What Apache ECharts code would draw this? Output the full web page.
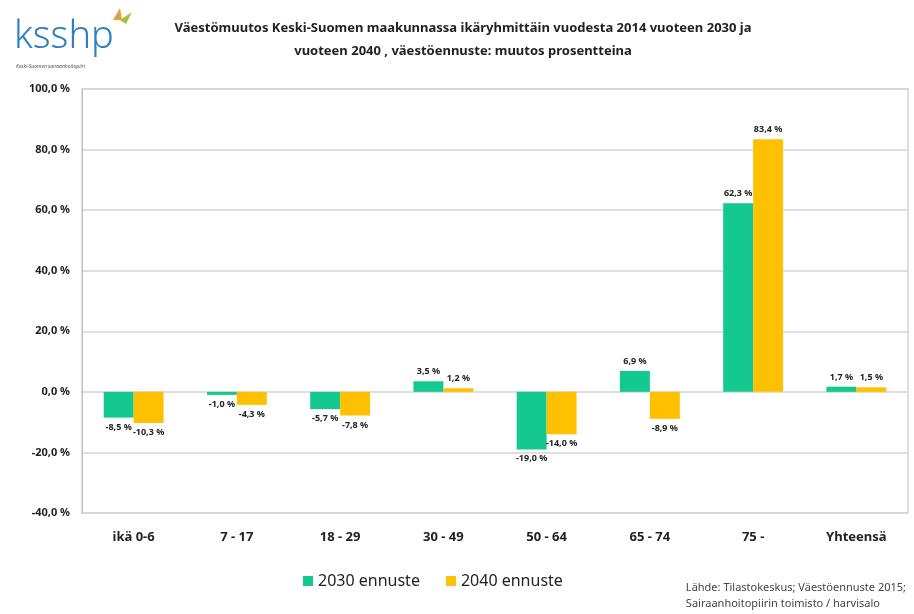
<!DOCTYPE html>
<html>
<head>
<meta charset="utf-8">
<script src="https://cdn.jsdelivr.net/npm/echarts@6/dist/echarts.min.js"></script>
<style>
  html, body { margin: 0; padding: 0; background: #fff; }
  #main { width: 914px; height: 614px; }
</style>
</head>
<body>
<div id="main"></div>
<script>
// ikäryhmät
const categories = ['ikä 0-6', '7 - 17', '18 - 29', '30 - 49', '50 - 64', '65 - 74', '75 -', 'Yhteensä'];
const ennuste2030 = [-8.5, -1.0, -5.7, 3.5, -19.0, 6.9, 62.3, 1.7];
const ennuste2040 = [-10.3, -4.3, -7.8, 1.2, -14.0, -8.9, 83.4, 1.5];
const seriesNames = ['2030 ennuste', '2040 ennuste'];

const FONT = '"Noto Sans", "Open Sans", sans-serif';
const fmt = (v) => v.toFixed(1).replace('.', ',') + ' %';

const barLabel = {
  show: true,
  fontFamily: FONT,
  fontSize: 9,
  fontWeight: 'bold',
  color: '#222',
  formatter: (p) => fmt(p.value),
};

function makeData(values) {
  // negatiiviset arvot: nimiö palkin alle
  return values.map((v) => ({
    value: v,
    label: { position: v < 0 ? 'bottom' : 'top' },
  }));
}

const myChart = echarts.init(document.getElementById('main'));

myChart.setOption({
  animation: false,
  backgroundColor: '#fff',
  title: {
    text: 'Väestömuutos Keski-Suomen maakunnassa ikäryhmittäin vuodesta 2014 vuoteen 2030 ja\nvuoteen 2040 , väestöennuste: muutos prosentteina',
    left: 458,
    top: 12,
    textAlign: 'center',
    textStyle: {
      fontFamily: FONT,
      fontSize: 13,
      fontWeight: 'bold',
      color: '#222',
      lineHeight: 23,
    },
  },
  legend: {
    data: seriesNames,
    left: 298,
    top: 568,
    itemWidth: 10,
    itemHeight: 10,
    itemGap: 26,
    icon: 'rect',
    textStyle: { fontFamily: FONT, fontSize: 16, color: '#222' },
  },
  grid: {
    left: 82,
    right: 6,
    top: 89,
    bottom: 101,
    show: true,
    borderColor: '#d4d4d4',
    borderWidth: 1.5,
  },
  xAxis: {
    type: 'category',
    data: categories,
    axisLine: { show: false },
    axisTick: { show: false },
    axisLabel: {
      fontFamily: FONT,
      fontSize: 13,
      fontWeight: 'bold',
      color: '#222',
      margin: 18,
    },
  },
  yAxis: {
    type: 'value',
    min: -40,
    max: 100,
    interval: 20,
    axisLine: { show: true, lineStyle: { color: '#bfbfbf' } },
    axisTick: { show: false },
    splitLine: { lineStyle: { color: '#d4d4d4', width: 1.5 } },
    axisLabel: {
      fontFamily: FONT,
      fontSize: 11,
      fontWeight: 'bold',
      color: '#222',
      margin: 12,
      formatter: (v) => fmt(v),
    },
  },
  series: [
    {
      name: seriesNames[0],
      type: 'bar',
      data: makeData(ennuste2030),
      itemStyle: { color: '#14C98F' },
      barGap: '0%',
      barCategoryGap: '42%',
      label: barLabel,
    },
    {
      name: seriesNames[1],
      type: 'bar',
      data: makeData(ennuste2040),
      itemStyle: { color: '#FFC000' },
      label: barLabel,
    },
  ],
  graphic: [
    {
      type: 'text',
      left: 14,
      top: 18,
      style: { text: 'ksshp', font: '300 38px "Noto Sans", sans-serif', fill: '#2f7fc1' },
    },
    {
      type: 'text',
      left: 16,
      top: 64,
      style: { text: 'Keski-Suomen sairaanhoitopiiri', font: 'italic 5px "Noto Sans", sans-serif', fill: '#555' },
    },
    {
      type: 'polygon',
      shape: { points: [[113, 20], [120, 8], [122, 20]] },
      style: { fill: '#e0a23a' },
    },
    {
      type: 'polygon',
      shape: { points: [[120, 20], [132, 12], [126, 24]] },
      style: { fill: '#9bc43c' },
    },
    {
      type: 'text',
      right: 8,
      top: 580,
      style: {
        text: 'Lähde: Tilastokeskus; Väestöennuste 2015;\nSairaanhoitopiirin toimisto / harvisalo',
        font: '11px "Noto Sans", sans-serif',
        fill: '#444',
        align: 'right',
        lineHeight: 16,
      },
    },
  ],
});
</script>
</body>
</html>
